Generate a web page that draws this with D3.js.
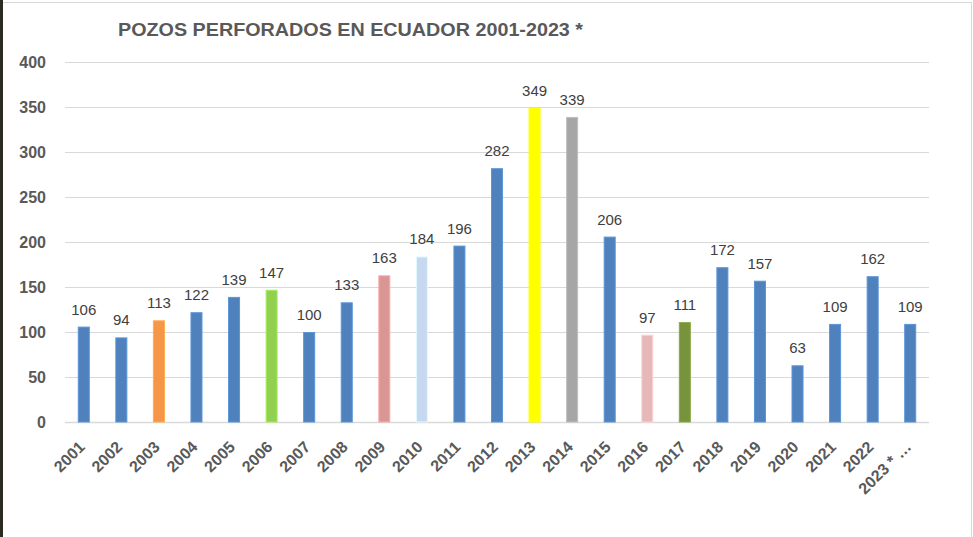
<!DOCTYPE html>
<html><head><meta charset="utf-8">
<script src="https://cdn.jsdelivr.net/npm/d3@7"></script>
<style>body{margin:0;background:#fff;}svg{display:block;}</style>
</head><body>
<svg id="c" width="973" height="537"></svg>
<script>
const years = ["2001","2002","2003","2004","2005","2006","2007","2008","2009","2010","2011","2012","2013","2014","2015","2016","2017","2018","2019","2020","2021","2022","2023 * …"];
const wells = [106,94,113,122,139,147,100,133,163,184,196,282,349,339,206,97,111,172,157,63,109,162,109];
const barColors = ["#4F81BD","#4F81BD","#F79646","#4F81BD","#4F81BD","#92D050","#4F81BD","#4F81BD","#D99694","#C6D9F1","#4F81BD","#4F81BD","#FFFF00","#A6A6A6","#4F81BD","#E6B9B8","#77933C","#4F81BD","#4F81BD","#4F81BD","#4F81BD","#4F81BD","#4F81BD"];
const yTicks = [0,50,100,150,200,250,300,350,400];
const title = "POZOS PERFORADOS EN ECUADOR 2001-2023 *";

const svg = d3.select("#c");
const font = "'Liberation Sans', Arial, sans-serif";
// frame
svg.append("rect").attr("x",0.5).attr("y",2.5).attr("width",971).attr("height",540).attr("fill","none").attr("stroke","#d9d9d9");
svg.append("rect").attr("x",0).attr("y",0).attr("width",3).attr("height",537).attr("fill","#2b2b1f");

const x = d3.scaleBand().domain(years).range([65,929]).paddingInner(0.68).paddingOuter(0.34);
const y = d3.scaleLinear().domain([0,400]).range([422,62]);

// gridlines
svg.append("g").selectAll("line").data(yTicks).join("line")
  .attr("x1",65).attr("x2",929)
  .attr("y1",d=>y(d)+0.5).attr("y2",d=>y(d)+0.5)
  .attr("stroke","#d9d9d9").attr("stroke-width",d=>d===0?1.6:1);

// y axis labels
const ya = svg.append("g").attr("transform","translate(46,0)")
  .call(d3.axisLeft(y).tickValues(yTicks).tickSize(0).tickPadding(0));
ya.select(".domain").remove();
ya.selectAll("text").attr("font-family",font).attr("font-size",16).attr("font-weight","bold").attr("fill","#595959");

// bars
svg.append("g").selectAll("rect").data(wells).join("rect")
  .attr("x",(d,i)=>x(years[i])+0.5).attr("width",x.bandwidth()-1)
  .attr("y",d=>y(d)+0.5).attr("height",d=>y(0)-y(d)-0.5)
  .attr("fill",(d,i)=>barColors[i])
  .attr("stroke",(d,i)=>d3.color(barColors[i]).brighter(0.4))
  .attr("stroke-width",1);

// data labels
svg.append("g").selectAll("text").data(wells).join("text")
  .attr("x",(d,i)=>x(years[i])+x.bandwidth()/2).attr("y",d=>y(d)-12)
  .attr("text-anchor","middle").attr("font-family",font).attr("font-size",15)
  .attr("fill","#404040").text(d=>d);

// x labels
const xa = svg.append("g").attr("transform","translate(0,422)")
  .call(d3.axisBottom(x).tickSize(0).tickPadding(0));
xa.select(".domain").remove();
xa.selectAll("text")
  .attr("font-family",font).attr("font-size",16).attr("font-weight","bold").attr("fill","#595959")
  .attr("text-anchor","end").attr("dy",null)
  .attr("transform","translate(2,26) rotate(-45)");

// title
svg.append("text").attr("x",118).attr("y",36).attr("font-family",font).attr("font-size",18)
  .attr("font-weight","bold").attr("fill","#595959").attr("textLength",465).attr("lengthAdjust","spacingAndGlyphs").text(title);
</script>
</body></html>
